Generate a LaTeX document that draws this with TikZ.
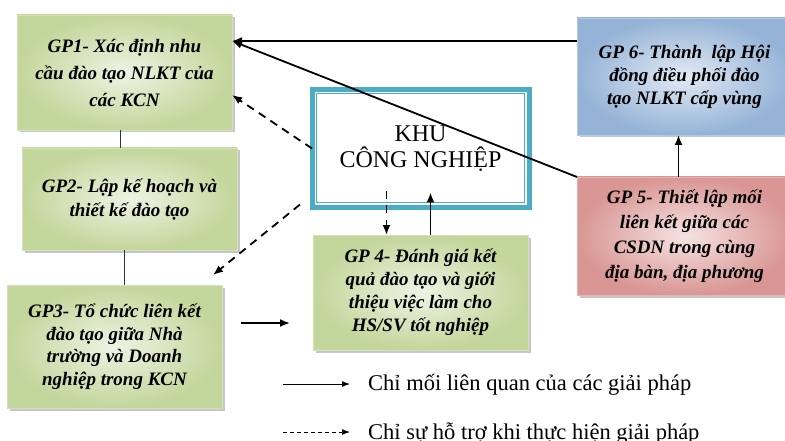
\documentclass[tikz,border=0pt]{standalone}
\usepackage{fontspec}
\setmainfont{Liberation Serif}
\usetikzlibrary{arrows.meta,calc,shadows}
\definecolor{gout}{HTML}{C3D69B}
\definecolor{gin}{HTML}{EEF3E3}
\definecolor{bout}{HTML}{95B3D7}
\definecolor{bin}{HTML}{E2EAF4}
\definecolor{rout}{HTML}{D99694}
\definecolor{rin}{HTML}{F5E3E2}
\definecolor{teal4}{HTML}{4BACC6}
\begin{document}
\begin{tikzpicture}[x=1pt,y=-1pt,
  gpbox/.style={rectangle, minimum width=215pt, inner sep=0pt, outer sep=0pt, align=center,
    font=\fontsize{19}{24}\selectfont\bfseries\itshape,
    drop shadow={shadow xshift=2.5pt,shadow yshift=-2.5pt,fill=black!50,opacity=0.45}},
  greenbox/.style={gpbox, inner color=gin, outer color=gout, draw=gout!70!white, line width=0.8pt},
  bluebox/.style={gpbox, inner color=bin, outer color=bout, draw=bout!70!white, line width=0.8pt},
  redbox/.style={gpbox, inner color=rin, outer color=rout, draw=rout!70!white, line width=0.8pt},
  solidarrow/.style={line width=1.8pt, -{Latex[length=10pt,width=8pt]}},
  dasharrow/.style={line width=1.8pt, dash pattern=on 8pt off 6pt, -{Latex[length=10pt,width=8pt]}},
  conn/.style={line width=1pt, black!80},
  legarrow/.style={line width=1pt, -{Latex[length=8pt,width=6pt]}},
  legdash/.style={line width=1pt, dash pattern=on 4pt off 3pt, -{Latex[length=8pt,width=6pt]}},
  legtext/.style={inner sep=0pt, font=\fontsize{22.5}{26}\selectfont}
]
\useasboundingbox (0,0) rectangle (785,441);

% boxes
\node[greenbox, minimum height=115pt, font=\fontsize{19}{27}\selectfont\bfseries\itshape] (gp1) at (124.5,72.5)
  {GP1- Xác định nhu\\cầu đào tạo NLKT của\\các KCN};
\node[greenbox, minimum height=102pt] (gp2) at (129.5,199)
  {GP2- Lập kế hoạch và\\thiết kế đào tạo};
\node[greenbox, minimum height=123pt, font=\fontsize{19}{22.5}\selectfont\bfseries\itshape] (gp3) at (114.5,346.5)
  {GP3- Tổ chức liên kết\\đào tạo giữa Nhà\\trường và Doanh\\nghiệp trong KCN};
\node[greenbox, minimum height=115pt, font=\fontsize{19}{23}\selectfont\bfseries\itshape] (gp4) at (420.5,292.5)
  {GP 4- Đánh giá kết\\quả đào tạo và giới\\thiệu việc làm cho\\HS/SV tốt nghiệp};
\node[bluebox, minimum height=117pt, font=\fontsize{19}{23}\selectfont\bfseries\itshape] (gp6) at (684.5,76.5)
  {GP 6- Thành~ lập Hội\\đồng điều phối đào\\tạo NLKT cấp vùng};
\node[redbox, minimum height=118pt, font=\fontsize{19}{25}\selectfont\bfseries\itshape] (gp5) at (684.5,236)
  {GP 5- Thiết lập mối\\liên kết giữa các\\CSDN trong cùng\\địa bàn, địa phương};

% central box
\node[draw=teal4, line width=5pt, fill=white, minimum width=217pt, minimum height=118pt, inner sep=0pt, outer sep=0pt,
  align=center, font=\fontsize{24}{26}\selectfont] (kcn) at (420.5,148.5) {KHU\\CÔNG NGHIỆP};
\draw[teal4, line width=1pt] ($(kcn.south west)+(4.5,-4.5)$) rectangle ($(kcn.north east)+(-4.5,4.5)$);

% connectors
\draw[conn] ($(gp1.south)+(-4.5,0)$) coordinate (c1) -- (c1 |- gp2.north);
\draw[conn] ($(gp2.south)+(-5.5,0)$) coordinate (c2) -- (c2 |- gp3.north);

\coordinate (t1) at ($(gp1.east)+(0,-31.5)$);
\draw[solidarrow] (gp6.west |- t1) -- (t1);
\draw[solidarrow] (gp5.north west) -- (t1);

\draw[dasharrow] (kcn.west) -- ($(gp1.east)+(0,22.5)$);
\draw[dasharrow] ($(kcn.south west)+(-12,-3)$) -- ($(gp3.north east)+(-9,-10)$);
\draw[dasharrow] ($(kcn.south)+(-34,-16)$) -- ($(gp4.north)+(-34,0)$);
\draw[solidarrow] ($(gp4.north)+(10,0)$) -- ($(kcn.south)+(10,-15)$);
\draw[solidarrow] ($(gp5.north)+(-6,0)$) -- ($(gp6.south)+(-6,0)$);

\coordinate (g34a) at ($(gp3.east)+(19,-23.5)$);
\coordinate (g34b) at ($(gp4.west)+(-23,30.5)$);
\draw[solidarrow] (g34a) -- (g34b);

% legend
\node[legtext, anchor=base west] (leg1) at (368,390.5) {Chỉ mối liên quan của các giải pháp};
\node[legtext, anchor=base west] (leg2) at (368,439.5) {Chỉ sự hỗ trợ khi thực hiện giải pháp};
\coordinate (l1) at (283,384);
\coordinate (l2) at (283,432);
\draw[legarrow, shorten >=18pt] (l1) -- (l1 -| leg1.west);
\draw[legdash, shorten >=18pt] (l2) -- (l2 -| leg2.west);
\end{tikzpicture}
\end{document}
